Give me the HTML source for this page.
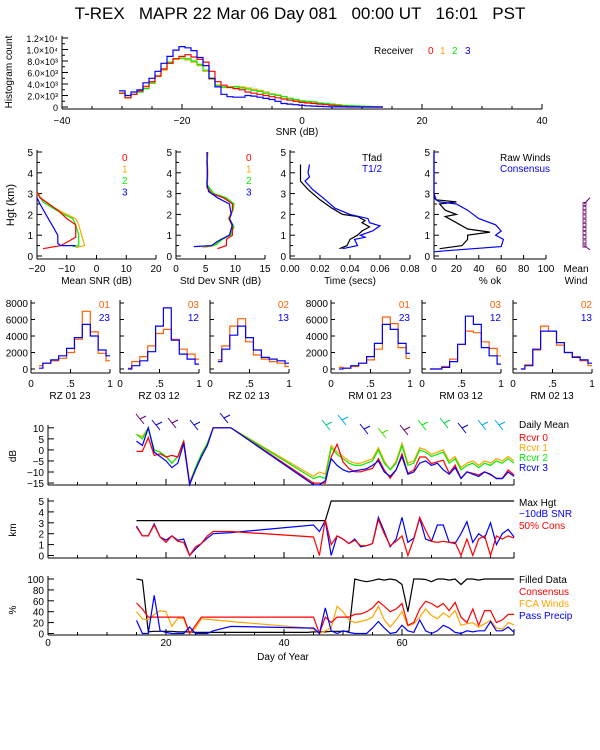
<!DOCTYPE html>
<html><head><meta charset="utf-8"><style>
html,body{margin:0;padding:0;background:#fff;}
svg{display:block;font-family:"Liberation Sans",sans-serif;}
</style></head><body>
<svg id="c" width="600" height="750" viewBox="0 0 600 750" xmlns="http://www.w3.org/2000/svg">
<text x="300" y="19" text-anchor="middle" font-size="17">T-REX&#160;&#160;&#160;MAPR 22 Mar 06 Day 081&#160;&#160;&#160;00:00 UT&#160;&#160;&#160;16:01&#160;&#160;&#160;PST</text>
</svg>
<script>
// ---------- DATA ----------
const snrBins = [-30,-29,-28,-27,-26,-25,-24,-23,-22,-21,-20,-19,-18,-17,-16,-15,-14,-13,-12,-11,-10,-9,-8,-7,-6,-5,-4,-3,-2,-1,0,1,2,3,4,5,6,7,8,9,10,11,12,13];
const histR0 = [2400,1600,2200,2800,3600,4400,5400,6600,7600,8400,8800,9100,8700,8300,7800,6200,4400,3800,3400,3200,3000,2600,2400,2200,2000,1800,1600,1400,1200,1000,800,700,600,500,400,300,200,100,50,20,0,0,0,0];
const histR1 = [2400,1600,2200,2600,3300,4100,5300,6400,7600,8300,8400,8200,7800,7200,6200,4800,3700,3400,3500,3600,3500,3300,3100,2900,2600,2300,2100,1800,1500,1200,1000,900,800,650,500,400,300,250,200,150,80,40,20,0];
const histR2 = [2400,1600,2200,2600,3200,4200,5400,6600,7800,8400,8500,8400,8000,7400,6400,5000,3800,3500,3500,3500,3300,3100,2900,2700,2400,2200,2000,1800,1500,1300,1100,1000,900,700,600,500,400,300,250,200,150,100,50,30];
const histR3 = [2800,2000,2600,3000,4200,5000,6200,7600,8800,9900,10500,10300,9800,8600,7200,5000,3500,2200,1800,1700,1700,2000,1900,1700,1500,1300,1000,600,500,400,300,200,150,100,50,20,20,10,0,0,0,0,0,0];
const histTicks = [0,2000,4000,6000,8000,10000,12000];
const histTickLabels = ["0","2.0×10³","4.0×10³","6.0×10³","8.0×10³","1.0×10⁴","1.2×10⁴"];

const meanSnr0 = [[-18,0.35],[-12,0.5],[-7,0.9],[-7,1.5],[-10,1.8],[-13,2.2],[-16,2.5],[-19,2.8],[-20,3.1]];
const meanSnr1 = [[-7,0.4],[-4,0.5],[-5,1.0],[-6,1.5],[-7,1.8],[-10,2.0],[-14,2.3],[-18,2.7],[-20,3.0]];
const meanSnr2 = [[-8,0.45],[-6,0.5],[-6,1.0],[-7,1.5],[-8,1.8],[-11,2.0],[-14,2.25],[-18,2.6],[-20,3.1]];
const meanSnr3 = [[-7,0.5],[-12,0.5],[-13,0.6],[-13,1.0],[-15,1.5],[-17,2.0],[-19,2.5],[-20,2.8]];
const sdSnr0 = [[7,0.35],[8.5,0.5],[8.5,0.8],[9.5,1.0],[9.5,1.4],[9,1.8],[9.5,2.2],[9.5,2.5],[8,2.8],[6,3.0],[5.2,3.3],[5.3,4],[5.2,4.5],[5.3,5]];
const sdSnr1 = [[4.5,0.4],[6.5,0.5],[7.5,0.8],[9,1.0],[9.7,1.4],[8.8,1.8],[9.5,2.2],[9.7,2.5],[8.3,2.8],[6.2,3.0],[5.3,3.4],[5.4,4],[5.3,4.5],[5.4,5]];
const sdSnr2 = [[5,0.45],[6.8,0.55],[7.8,0.8],[9.2,1.0],[9.8,1.4],[9,1.8],[9.6,2.2],[9.8,2.5],[8.5,2.8],[6.4,3.0],[5.3,3.4],[5.3,4],[5.2,4.5],[5.3,5]];
const sdSnr3 = [[3,0.45],[6,0.5],[7,0.7],[9,1.0],[9.5,1.5],[9,1.8],[9.3,2.0],[9,2.5],[7,2.8],[5.5,3.1],[5.2,3.5],[5.3,4],[5.2,5]];
const tFad = [[0.033,0.35],[0.038,0.5],[0.04,0.8],[0.045,1.0],[0.048,1.2],[0.053,1.4],[0.048,1.6],[0.05,1.7],[0.045,1.9],[0.035,2.0],[0.028,2.3],[0.02,2.7],[0.012,3.2],[0.007,3.6],[0.007,4.0],[0.007,4.4]];
const tHalf = [[0.035,0.35],[0.045,0.5],[0.043,0.8],[0.05,0.9],[0.047,1.0],[0.055,1.2],[0.06,1.45],[0.053,1.6],[0.052,1.8],[0.04,2.0],[0.03,2.3],[0.022,2.8],[0.015,3.2],[0.01,3.6],[0.013,3.8],[0.012,4.0],[0.013,4.4]];
const okRaw = [[5,0.35],[25,0.5],[30,0.8],[30,1.0],[50,1.15],[30,1.3],[20,1.6],[10,1.9],[20,2.0],[10,2.2],[5,2.5],[20,2.6],[2,2.7],[0,2.8],[0,5]];
const okCons = [[0,0.2],[10,0.25],[60,0.45],[62,0.8],[55,1.0],[60,1.2],[55,1.5],[40,1.8],[30,2.2],[20,2.5],[5,2.6],[2,2.7],[0,3.0],[0,5]];
const meanWindHgt = [0.5,0.7,0.9,1.1,1.3,1.5,1.7,1.9,2.1,2.3,2.5];

const corrCenters = [0.1,0.2,0.3,0.4,0.5,0.6,0.7,0.8,0.9,1.0];
const rz0123a = [400,700,1000,1300,2000,3600,7000,4500,1900,1000];
const rz0123b = [100,700,1100,1600,2500,3800,5400,4000,2300,1600];
const rz0312a = [100,900,1500,2800,4300,4800,3600,2400,1800,1200];
const rz0312b = [0,400,1000,2100,5200,7400,3500,1800,1200,600];
const rz0213a = [1100,2800,5200,6100,3300,1700,1200,900,700,300];
const rz0213b = [900,2400,4100,5200,3800,2300,1400,1200,1000,700];
const rm0123a = [200,100,300,700,1100,2400,6300,5500,2600,1300];
const rm0123b = [0,100,400,700,1500,3100,5400,4800,3100,1900];
const rm0312a = [0,0,300,1200,3000,4600,4400,3300,2500,1600];
const rm0312b = [0,0,200,900,3000,6400,5400,2600,1600,600];
const rm0213a = [0,500,2300,5200,4600,2900,2000,1500,1000,400];
const rm0213b = [0,400,2400,4600,4600,3200,2000,1400,1100,700];

const days = [15,16,17,18,19,20,21,22,23,24,25,26,27,28,31,45,46,47,48,49,50,51,52,53,54,55,56,57,58,59,60,61,62,63,64,65,66,67,68,69,70,71,72,73,74,75,76,77,78,79];
const dbR0 = [-0.7,-0.7,5.6,-2.5,-1.8,-3.2,-2.5,-3.2,4.1,-15,-9.1,-3.2,1.9,10,10,-15,-15,-15,-3.2,2.6,-5.4,-8.4,-9.9,-9.9,-9.1,-8.4,-4,-9.1,-12.8,-9.1,-1.8,-10.6,-9.1,-3.2,-3.2,-6.2,-5.4,-4.7,-10.6,-6.9,-12.8,-9.9,-10.6,-11.3,-9.9,-11.3,-12.8,-12.8,-9.1,-11.3];
const dbR1 = [7,6,10,0,-1,-3,-6,-3,4,-15,-8,-2,3,10,10,-12,-10,-11,2,-1,-3,-5,-6,-6,-5,-4,1,-5,-9,-5,3,-6,-5,1,0,-2,-1,0,-5,-3,-8,-6,-5,-7,-5,-6,-4,-5,-3,-5];
const dbR2 = [7,5,10,0,-1,-3,-6,-3,4,-15,-8,-2,3,10,10,-13,-12,-13,1,-2,-4,-6,-7,-7,-6,-5,0,-6,-9,-6,2,-7,-6,0,-1,-3,-2,-1,-6,-4,-9,-7,-6,-8,-6,-7,-5,-6,-4,-6];
const dbR3 = [4,2,10,-1,-3,-5,-8,-6,3,-16,-9,-3,2,10,10,-16,-16,-14,-4,-7,-9,-10,-9.5,-9,-8.5,-7,-5,-10,-12,-9,-3,-11,-10,-6,-5,-7,-6,-9,-11,-8,-13,-10,-11,-12,-10,-11,-13,-13,-10,-12];
const maxHgtDays = [15,47,48,79];
const maxHgt = [3.2,3.2,5,5];
const snr10 = [2.7,1.8,1.8,2.9,1.7,1.4,1.8,1.4,1.5,0,0.6,1.1,1.6,2.0,2.1,2.8,2.2,3.2,0,1.8,1.5,1.1,1.5,0.8,0.9,1.1,3.5,2.2,0.8,1.5,3.5,1.2,1.6,3.4,1.5,1.3,2.8,2.8,1.2,1.1,2.0,3.1,1.2,2.0,1.6,3.0,1.0,2.0,2.4,1.7];
const cons50 = [2.6,1.8,1.8,2.8,1.7,1.2,1.8,1.3,1.2,0,0.8,1.1,1.8,2.2,2.2,1.7,0,3.3,1.0,1.8,1.5,1.1,1.4,0.9,0.9,1.1,3.3,2.0,0.9,1.3,1.8,0,1.5,3.5,2.3,1.3,1.2,1.3,1.2,1.2,0,1.5,0,1.5,1.8,0,1.8,1.5,1.8,1.6];
const pctDays = [15,16,17,18,19,20,21,22,23,24,25,26,27,28,31,44,45,46,47,48,49,50,51,52,53,54,55,56,57,58,59,60,61,62,63,64,65,66,67,68,69,70,71,72,73,74,75,76,77,78,79];
const pctFilled = [100,98,3,4,4,4,4,3,3,3,2,2,2,2,2,2,3,3,3,4,4,4,4,100,97,95,97,100,98,100,98,90,40,100,100,99,95,100,100,98,100,90,100,100,98,100,100,100,100,100,100];
const pctCons = [56,45,30,30,30,30,30,30,30,0,15,30,30,30,30,30,30,0,30,20,30,30,30,35,36,40,47,59,50,40,45,55,15,20,45,59,55,48,55,42,57,30,20,45,15,42,42,20,25,35,35];
const pctFca = [40,27,25,35,42,40,13,28,27,0,10,27,26,25,22,10,8,0,5,10,50,40,25,20,22,25,30,50,25,12,25,40,14,18,30,45,33,27,38,30,42,15,18,20,12,18,24,10,8,20,16];
const pctPrecip = [24,0,0,70,5,2,0,0,0,12,0,0,0,5,13,10,10,0,47,5,0,5,2,0,0,0,10,22,10,0,2,15,5,2,25,5,0,5,15,10,2,0,5,3,5,5,22,5,5,12,2];
const dayTicks = [0,20,40,60];

// ---------- DRAWING ----------
const svg = document.getElementById('c');
const NS = 'http://www.w3.org/2000/svg';
const RED='#ff0000', ORG='#ffa500', GRN='#00ee00', BLU='#0000ff', ORR='#ff6000';
function mk(tag, attrs, name){
  const el = document.createElementNS(NS, tag);
  for (const k in attrs) el.setAttribute(k, attrs[k]);
  
  
  svg.appendChild(el); return el;
}
function txt(x,y,s,name,opt){
  opt=opt||{};
  const el = mk('text',{x:x,y:y,'font-size':opt.fs||10,fill:opt.fill||'#000','text-anchor':opt.anchor||'start'},name);
  if(opt.rot) el.setAttribute('transform','rotate(-90 '+x+' '+y+')');
  el.textContent = s; return el;
}
function ln(x1,y1,x2,y2,name,col){
  return mk('line',{x1:x1,y1:y1,x2:x2,y2:y2,stroke:col||'#000','stroke-width':1},name);
}
function poly(pts,col,name){
  return mk('polyline',{points:pts.map(p=>p[0].toFixed(1)+','+p[1].toFixed(1)).join(' '),fill:'none',stroke:col,'stroke-width':1.2},name);
}
function steps(centers,vals,half,lo,hi,xs,ys,col,name){
  const pts=[];
  centers.forEach((c,i)=>{
    const a=Math.max(lo,c-half), b=Math.min(hi,c+half);
    pts.push([xs(a),ys(vals[i])]); pts.push([xs(b),ys(vals[i])]);
  });
  return poly(pts,col,name);
}

// ---- Top histogram ----
const hx = d => 62 + (d+40)*6.0;
const hy = v => 107 - v/12000*69;
ln(62,109,542,109,'hist-x-axis'); ln(62,109,62,36,'hist-y-axis');
[-40,-20,0,20,40].forEach(t=>{ln(hx(t),109,hx(t),104,'hist-x-tick'); txt(hx(t),124,(t<0?'−':'')+Math.abs(t),'hist-x-tick-label',{anchor:'middle'});});
for(let t=-35;t<40;t+=5){ if(t%20) ln(hx(t),109,hx(t),106,'hist-x-minor-tick'); }
histTicks.forEach((t,i)=>{ln(62,hy(t),68,hy(t),'hist-y-tick'); txt(58,hy(t)+4,histTickLabels[i],'hist-y-tick-label',{anchor:'end',fs:9});});
for(let t=1000;t<12000;t+=1000){ if(t%2000) ln(62,hy(t),65,hy(t),'hist-y-minor-tick'); }
txt(297,135,'SNR (dB)','hist-x-title',{anchor:'middle'});
txt(12,72,'Histogram count','hist-y-title',{anchor:'middle',rot:true});
steps(snrBins,histR1,0.5,-30.5,13.5,hx,hy,ORG,'hist-receiver-1');
steps(snrBins,histR2,0.5,-30.5,13.5,hx,hy,GRN,'hist-receiver-2');
steps(snrBins,histR0,0.5,-30.5,13.5,hx,hy,RED,'hist-receiver-0');
steps(snrBins,histR3,0.5,-30.5,13.5,hx,hy,BLU,'hist-receiver-3');
txt(374,54,'Receiver','hist-legend-title');
txt(428,54,'0','hist-legend-0',{fill:RED}); txt(440,54,'1','hist-legend-1',{fill:ORG});
txt(452,54,'2','hist-legend-2',{fill:GRN}); txt(465,54,'3','hist-legend-3',{fill:BLU});

// ---- Profile panels ----
const py = k => 256 - k*20.8;
function profPanel(x0,x1,mn,mx,ticks,tlabs,title,series,id){
  const xs = v => x0 + (v-mn)/(mx-mn)*(x1-x0);
  ln(x0,259,x1,259,id+'-x-axis'); ln(x0,259,x0,150,id+'-y-axis');
  ticks.forEach((t,i)=>{ln(xs(t),259,xs(t),255,id+'-x-tick'); txt(xs(t),272,tlabs[i],id+'-x-tick-label',{anchor:'middle'});});
  for(let k=0;k<=5;k++){ln(x0,py(k),x0+5,py(k),id+'-y-tick'); txt(x0-4,py(k)+4,String(k),id+'-y-tick-label',{anchor:'end'});}
  for(let k=0.5;k<5;k+=1){ln(x0,py(k),x0+3,py(k),id+'-y-minor-tick');}
  txt((x0+x1)/2,284,title,id+'-x-title',{anchor:'middle'});
  series.forEach(s=>poly(s[0].map(p=>[xs(p[0]),py(p[1])]),s[1],s[2]));
}
profPanel(37,156,-20,20,[-20,-10,0,10,20],['−20','−10','0','10','20'],'Mean SNR (dB)',[[meanSnr1,ORG,'mean-snr-1'],[meanSnr2,GRN,'mean-snr-2'],[meanSnr0,RED,'mean-snr-0'],[meanSnr3,BLU,'mean-snr-3']],'mean-snr');
profPanel(176,265,0,15,[0,5,10,15],['0','5','10','15'],'Std Dev SNR (dB)',[[sdSnr1,ORG,'sd-snr-1'],[sdSnr2,GRN,'sd-snr-2'],[sdSnr0,RED,'sd-snr-0'],[sdSnr3,BLU,'sd-snr-3']],'sd-snr');
profPanel(290,410,0,0.08,[0,0.02,0.04,0.06,0.08],['0.00','0.02','0.04','0.06','0.08'],'Time (secs)',[[tFad,'#000','tfad-line'],[tHalf,BLU,'thalf-line']],'time');
profPanel(434,546,0,100,[0,20,40,60,80,100],['0','20','40','60','80','100'],'% ok',[[okRaw,'#000','raw-winds-line'],[okCons,BLU,'consensus-line']],'pct-ok');
txt(14,205,'Hgt (km)','profile-y-title',{anchor:'middle',rot:true,fs:11});
[['0',RED],['1',ORG],['2',GRN],['3',BLU]].forEach((d,i)=>{txt(122,161+i*11.5,d[0],'mean-snr-legend-'+d[0],{fill:d[1]}); txt(246,161+i*11.5,d[0],'sd-snr-legend-'+d[0],{fill:d[1]});});
txt(362,161,'Tfad','tfad-legend'); txt(362,172,'T1/2','thalf-legend',{fill:BLU});
txt(500,161,'Raw Winds','raw-winds-legend'); txt(500,172,'Consensus','consensus-legend',{fill:BLU});
meanWindHgt.forEach(h=>mk('rect',{x:583,y:py(h)-1.5,width:3,height:3,fill:'none',stroke:'#660066','stroke-width':0.8},'mean-wind-marker'));
ln(584,py(2.5),590,py(2.8),'mean-wind-barb','#660066'); ln(584,py(0.5),590,py(0.3),'mean-wind-barb','#660066');
txt(576,272,'Mean','mean-wind-label',{anchor:'middle'}); txt(576,284,'Wind','mean-wind-label',{anchor:'middle'});

// ---- Correlation histograms ----
const cy = v => 369 - v/8000*66;
function corrPanel(x0,a,b,la,lb,title,showY,id){
  const xs = v => x0 + v*79;
  ln(x0,373,x0+79,373,id+'-x-axis'); ln(x0,373,x0,300,id+'-y-axis');
  [0,2000,4000,6000,8000].forEach(t=>{ln(x0,cy(t),x0+4,cy(t),id+'-y-tick'); if(showY) txt(x0-3,cy(t)+4,String(t),id+'-y-tick-label',{anchor:'end'});});
  [0,0.5,1].forEach(t=>{ln(xs(t),373,xs(t),369,id+'-x-tick'); txt(xs(t),387,t===0.5?'.5':String(t),id+'-x-tick-label',{anchor:'middle'});});
  steps(corrCenters,a,0.05,0.1,1.0,xs,cy,ORR,id+'-hist-a');
  steps(corrCenters,b,0.05,0.1,1.0,xs,cy,BLU,id+'-hist-b');
  txt(x0+79,308,la,id+'-legend-a',{anchor:'end',fill:ORR}); txt(x0+79,321,lb,id+'-legend-b',{anchor:'end',fill:BLU});
  txt(x0+39,399,title,id+'-title',{anchor:'middle'});
}
corrPanel(31,rz0123a,rz0123b,'01','23','RZ  01 23',true,'rz-01-23');
corrPanel(120,rz0312a,rz0312b,'03','12','RZ  03 12',false,'rz-03-12');
corrPanel(210,rz0213a,rz0213b,'02','13','RZ  02 13',false,'rz-02-13');
corrPanel(331,rm0123a,rm0123b,'01','23','RM  01 23',true,'rm-01-23');
corrPanel(422,rm0312a,rm0312b,'03','12','RM  03 12',false,'rm-03-12');
corrPanel(513,rm0213a,rm0213b,'02','13','RM  02 13',false,'rm-02-13');

// ---- Time series ----
const xd = d => 48 + d*5.9;
function tsAxes(yb,ytop,ticks,ys,ylabs,ylabel,ymid,showX,id){
  ln(48,yb,514,yb,id+'-x-axis'); ln(48,yb,48,ytop,id+'-y-axis'); ln(514,yb,514,yb-6,id+'-right-tick');
  ticks.forEach((t,i)=>{ln(48,ys(t),54,ys(t),id+'-y-tick'); txt(44,ys(t)+4,ylabs[i],id+'-y-tick-label',{anchor:'end'});});
  dayTicks.forEach(t=>{ln(xd(t),yb,xd(t),yb-6,id+'-x-tick'); if(showX) txt(xd(t),yb+11,String(t),id+'-x-tick-label',{anchor:'middle'});});
  for(let d=5;d<80;d+=5){ if(d%20) ln(xd(d),yb,xd(d),yb-3,id+'-x-minor-tick'); }
  txt(16,ymid,ylabel,id+'-y-title',{anchor:'middle',rot:true});
}
const yA = v => 427.8 + (10-Math.max(v,-15.8))*2.21;
tsAxes(485,425,[10,5,0,-5,-10,-15],yA,['10','5','0','−5','−10','−15'],'dB',456,false,'daily-mean');
poly(days.map((d,i)=>[xd(d),yA(dbR1[i])]),ORG,'rcvr-1-line');
poly(days.map((d,i)=>[xd(d),yA(dbR2[i])]),GRN,'rcvr-2-line');
poly(days.map((d,i)=>[xd(d),yA(dbR0[i])]),RED,'rcvr-0-line');
poly(days.map((d,i)=>[xd(d),yA(dbR3[i])]),BLU,'rcvr-3-line');
txt(519,428,'Daily Mean','daily-mean-legend');
txt(519,441,'Rcvr 0','rcvr-0-legend',{fill:RED}); txt(519,451,'Rcvr 1','rcvr-1-legend',{fill:ORG});
txt(519,461,'Rcvr 2','rcvr-2-legend',{fill:GRN}); txt(519,471,'Rcvr 3','rcvr-3-legend',{fill:BLU});
const barbs=[[136,414,'#660066'],[152,420,'#0000cc'],[168,418,'#660066'],[190,420,'#0000cc'],[220,413,'#0000cc'],[322,420,'#00cc88'],[338,415,'#00aaee'],[360,424,'#0000cc'],[378,428,'#44dd00'],[400,425,'#660066'],[418,420,'#00ee00'],[440,418,'#00cc44'],[458,423,'#0000cc'],[478,420,'#00aaee'],[495,420,'#00aaee']];
barbs.forEach(b=>{ln(b[0],b[1],b[0]+8,b[1]+10,'wind-barb',b[2]); ln(b[0]+4,b[1]+5,b[0]+10,b[1]+2,'wind-barb',b[2]);});

const yB = v => 555.5 - v*10.9;
tsAxes(558,498,[0,1,2,3,4,5],yB,['0','1','2','3','4','5'],'km',530,false,'height');
poly(maxHgtDays.map((d,i)=>[xd(d),yB(maxHgt[i])]),'#000','max-hgt-line');
poly(days.map((d,i)=>[xd(d),yB(snr10[i])]),BLU,'snr-10db-line');
poly(days.map((d,i)=>[xd(d),yB(cons50[i])]),RED,'cons-50-line');
txt(519,506,'Max Hgt','max-hgt-legend'); txt(519,517,'−10dB SNR','snr-10db-legend',{fill:BLU}); txt(519,529,'50% Cons','cons-50-legend',{fill:RED});

const yC = v => 633.5 - v*0.545;
tsAxes(635,576,[0,20,40,60,80,100],yC,['0','20','40','60','80','100'],'%',610,true,'percent');
poly(pctDays.map((d,i)=>[xd(d),yC(pctFilled[i])]),'#000','filled-data-line');
poly(pctDays.map((d,i)=>[xd(d),yC(pctFca[i])]),ORG,'fca-winds-line');
poly(pctDays.map((d,i)=>[xd(d),yC(pctCons[i])]),RED,'consensus-pct-line');
poly(pctDays.map((d,i)=>[xd(d),yC(pctPrecip[i])]),BLU,'pass-precip-line');
txt(519,583,'Filled Data','filled-data-legend'); txt(519,595,'Consensus','consensus-pct-legend',{fill:RED});
txt(519,607,'FCA Winds','fca-winds-legend',{fill:ORG}); txt(519,619,'Pass Precip','pass-precip-legend',{fill:BLU});
txt(283,660,'Day of Year','percent-x-title',{anchor:'middle'});
</script>
</body></html>
